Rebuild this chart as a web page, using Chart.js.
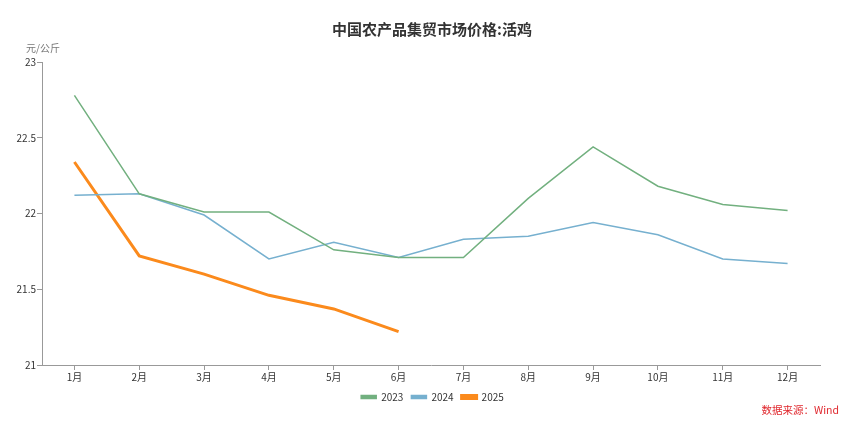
<!DOCTYPE html>
<html><head><meta charset="utf-8">
<script src="https://cdn.jsdelivr.net/npm/chart.js@4"></script>
<style>html,body{margin:0;padding:0;background:#fff}#wrap{width:865px;height:423px}</style>
</head><body><div id="wrap"><canvas id="c" width="865" height="423"></canvas></div>
<script>
const months = ["1月","2月","3月","4月","5月","6月","7月","8月","9月","10月","11月","12月"];
const s2023 = [22.78,22.13,22.01,22.01,21.76,21.71,21.71,22.10,22.44,22.18,22.06,22.02];
const s2024 = [22.12,22.13,21.99,21.70,21.81,21.71,21.83,21.85,21.94,21.86,21.70,21.67];
const s2025 = [22.34,21.72,21.60,21.46,21.37,21.22];
const yTicks = [21,21.5,22,22.5,23];
const FONT = "'Noto Sans CJK SC','Noto Sans',sans-serif";

const textPlugin = {
  id:'texts',
  afterDraw(chart){
    const ctx = chart.ctx;
    ctx.save();
    ctx.fillStyle = '#333';
    ctx.font = "bold 15px " + FONT;
    ctx.textAlign = 'center'; ctx.textBaseline = 'middle';
    ctx.fillText('中国农产品集贸市场价格:活鸡', 432, 29);
    ctx.fillStyle = '#777';
    ctx.font = "10px " + FONT;
    ctx.textAlign = 'left';
    ctx.fillText('元/公斤', 26, 48);
    ctx.fillStyle = '#e0282e';
    ctx.font = "10.5px " + FONT;
    ctx.textAlign = 'right';
    ctx.fillText('数据来源：Wind', 839, 410);
    ctx.restore();
  }
};

new Chart(document.getElementById('c'), {
  type:'line',
  data:{
    labels: months,
    datasets:[
      {label:'2023', data:s2023, borderColor:'#72b07f', backgroundColor:'#72b07f', borderWidth:1.5, pointRadius:0, tension:0},
      {label:'2024', data:s2024, borderColor:'#76b0cf', backgroundColor:'#76b0cf', borderWidth:1.5, pointRadius:0, tension:0},
      {label:'2025', data:s2025, borderColor:'#fb8a1c', backgroundColor:'#fb8a1c', borderWidth:3, pointRadius:0, tension:0}
    ]
  },
  options:{
    responsive:false, animation:false,
    layout:{padding:{top:62,right:0,left:0,bottom:11}},
    plugins:{
      legend:{position:'bottom', labels:{boxWidth:15, boxHeight:3, padding:8, color:'#333', font:{family:FONT,size:10}}},
      tooltip:{enabled:false}
    },
    scales:{
      x:{offset:true, grid:{display:true, drawOnChartArea:false, drawTicks:true, tickLength:5, color:'#999'}, border:{color:'#999'},
         ticks:{color:'#333', font:{family:FONT,size:10}, padding:1, maxRotation:0}},
      y:{min:21, max:23, afterBuildTicks(s){ s.ticks = yTicks.map(v=>({value:v})); },
         grid:{display:true, drawOnChartArea:false, drawTicks:true, tickLength:5, color:'#999'}, border:{color:'#999'},
         ticks:{color:'#333', font:{family:FONT,size:10}, padding:1, callback:(v)=>String(v)},
         afterFit(s){ s.width = 42; }},
      yr:{position:'right', display:true, grid:{display:false}, border:{display:false}, ticks:{display:false},
         afterFit(s){ s.width = 45; }}
    }
  },
  plugins:[textPlugin]
});
</script></body></html>
